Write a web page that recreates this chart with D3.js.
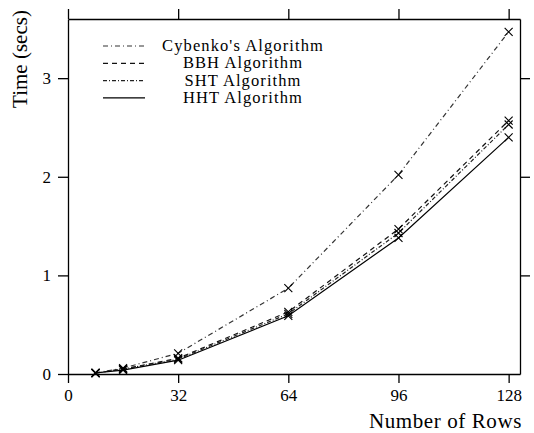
<!DOCTYPE html>
<html>
<head>
<meta charset="utf-8">
<script src="https://cdn.jsdelivr.net/npm/d3@7"></script>
<style>
  body { margin: 0; background: #fff; }
  svg text { font-family: "Liberation Serif", "Times New Roman", "DejaVu Serif", serif; }
</style>
</head>
<body>
<div id="chart"></div>
<script>
const rows = [8, 16, 32, 64, 96, 128];
const cybenko = [0.01, 0.06, 0.21, 0.87, 2.02, 3.47];
const bbh = [0.01, 0.05, 0.16, 0.63, 1.47, 2.57];
const sht = [0.01, 0.05, 0.15, 0.61, 1.43, 2.53];
const hht = [0.01, 0.04, 0.14, 0.59, 1.38, 2.40];
const xTicks = [0, 32, 64, 96, 128];
const yTicks = [0, 1, 2, 3];
const names = ["Cybenko's Algorithm", "BBH Algorithm", "SHT Algorithm", "HHT Algorithm"];

const series = [
  { name: names[0], values: cybenko, dash: "5,3,1,3", color: "#333" },
  { name: names[1], values: bbh, dash: "5,4", color: "#111" },
  { name: names[2], values: sht, dash: "4,2,1,2", color: "#222" },
  { name: names[3], values: hht, dash: null, color: "#000" }
];

const W = 534, H = 433;
const margin = { top: 19, right: 14, bottom: 59, left: 68 },
  width = W - margin.left - margin.right,
  height = H - margin.top - margin.bottom;

const svg = d3.select("#chart").append("svg")
  .attr("width", W).attr("height", H)
  .append("g")
  .attr("transform", "translate(" + margin.left + "," + margin.top + ")");

const x = d3.scaleLinear().domain([0, 131.3]).range([0, width]);
const y = d3.scaleLinear().domain([0, 3.6]).range([height, 0]);

// axes on all four sides, ticks pointing out
function styleAxis(g) {
  g.attr("font-family", null);
  g.select(".domain").attr("stroke", "#000").attr("stroke-width", 1.3);
  g.selectAll(".tick line").attr("stroke", "#000").attr("stroke-width", 1.3);
  g.selectAll("text").attr("font-size", 17).attr("fill", "#000");
}

svg.append("g")
  .attr("transform", "translate(0," + height + ")")
  .call(d3.axisBottom(x).tickValues(xTicks).tickSize(9).tickPadding(6).tickSizeOuter(0))
  .call(styleAxis);

svg.append("g")
  .call(d3.axisTop(x).tickValues(xTicks).tickSize(10).tickFormat("").tickSizeOuter(0))
  .call(styleAxis);

svg.append("g")
  .call(d3.axisLeft(y).tickValues(yTicks).tickFormat(d3.format("d")).tickSize(10).tickPadding(7).tickSizeOuter(0))
  .call(styleAxis);

svg.append("g")
  .attr("transform", "translate(" + width + ",0)")
  .call(d3.axisRight(y).tickValues(yTicks.slice(1)).tickSize(10).tickFormat("").tickSizeOuter(0))
  .call(styleAxis);

// lines
const line = d3.line()
  .x((d, i) => x(rows[i]))
  .y(d => y(d));

series.forEach(s => {
  svg.append("path")
    .datum(s.values)
    .attr("fill", "none")
    .attr("stroke", s.color)
    .attr("stroke-width", 1.2)
    .attr("stroke-dasharray", s.dash)
    .attr("d", line);

  svg.selectAll(null)
    .data(s.values)
    .enter()
    .append("path")
    .attr("transform", (d, i) => "translate(" + x(rows[i]) + "," + y(d) + ")")
    .attr("d", "M-4,-4L4,4M-4,4L4,-4")
    .attr("stroke", "#000")
    .attr("stroke-width", 1.1);
});

// legend
const legend = svg.append("g").attr("transform", "translate(35,27)");
series.forEach((s, i) => {
  const row = legend.append("g").attr("transform", "translate(0," + i * 17.3 + ")");
  row.append("line")
    .attr("x1", 0).attr("x2", 42)
    .attr("stroke", s.color)
    .attr("stroke-width", 1.2)
    .attr("stroke-dasharray", s.dash);
  row.append("text")
    .attr("x", 140)
    .attr("y", 5)
    .attr("text-anchor", "middle")
    .attr("font-size", 16.5)
    .attr("letter-spacing", 1.1)
    .text(s.name);
});

// axis titles
svg.append("text")
  .attr("x", width + 2)
  .attr("y", height + 54)
  .attr("text-anchor", "end")
  .attr("font-size", 21)
  .attr("letter-spacing", 0.6)
  .text("Number of Rows");

svg.append("text")
  .attr("transform", "rotate(-90)")
  .attr("x", -40)
  .attr("y", -41)
  .attr("text-anchor", "middle")
  .attr("font-size", 21)
  .text("Time (secs)");
</script>
</body>
</html>
